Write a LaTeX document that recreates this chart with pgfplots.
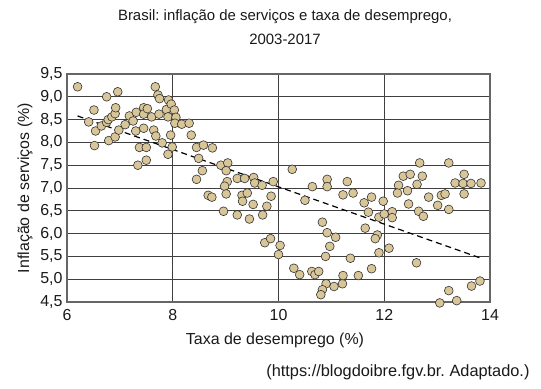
\documentclass[border=0pt]{standalone}
\usepackage{pgfplots}
\pgfplotsset{compat=1.18}
\usepackage{fontspec}
\setmainfont{Liberation Sans}
\frenchspacing
\definecolor{dot}{RGB}{217,198,152}
\definecolor{txt}{RGB}{25,25,25}
\begin{document}
\begin{tikzpicture}[x=1bp,y=1bp]
\useasboundingbox (-67,-86) rectangle (474,302);
\begin{axis}[
  at={(0,0)}, anchor=south west,
  scale only axis, width=423bp, height=228bp,
  xmin=6, xmax=14, ymin=4.5, ymax=9.5,
  xtick={6,8,10,12,14},
  ytick={4.5,5,5.5,6,6.5,7,7.5,8,8.5,9,9.5},
  xmajorgrids, ymajorgrids,
  grid style={black!75, line width=0.7bp},
  axis line style={black!60, line width=1.2bp},
  major tick length=0pt,
  clip=false,
  tick label style={font=\fontsize{16}{18}\selectfont, text=txt},
  /pgf/number format/assume math mode=true,
  yticklabel style={xshift=-1bp, /pgf/number format/.cd, fixed, fixed zerofill, precision=1, use comma},
  xticklabel style={yshift=-4bp, /pgf/number format/.cd, fixed, precision=0},
]
\addplot[only marks, mark=*, mark size=4.4bp, mark options={fill=dot, draw=black!80, line width=0.6bp}] coordinates {
(6.2,9.22) (6.75,9.0) (6.96,9.11) (6.51,8.71) (6.41,8.45) (6.54,8.25) (6.52,7.93) (6.65,8.36)
(6.75,8.44) (6.78,8.5) (6.85,8.56) (6.91,8.63) (6.92,8.76) (6.79,8.04) (6.91,8.12) (6.98,8.27)
(7.1,8.39) (7.18,8.58) (7.25,8.47) (7.31,8.66) (7.3,8.25) (7.37,7.89) (7.34,7.5) (7.45,8.76)
(7.45,8.62) (7.52,8.74) (7.45,8.31) (7.5,7.89) (7.5,7.61) (7.6,8.56) (7.64,8.27) (7.68,8.14)
(7.67,9.22) (7.72,9.04) (7.75,8.96) (7.74,8.62) (7.8,7.99) (7.88,8.72) (7.92,8.93) (7.97,8.84)
(7.91,8.56) (7.96,8.16) (7.99,7.9) (7.91,7.74) (8.03,8.71) (8.06,8.55) (8.04,8.42) (8.17,8.4)
(8.31,8.42) (8.35,8.16) (8.45,7.89) (8.58,7.94) (8.49,7.65) (8.56,7.38) (8.45,7.19) (8.75,7.88)
(8.91,7.5) (9.04,7.55) (9.01,7.38) (9.03,7.14) (8.98,7.04) (9.22,7.21) (9.36,7.21) (9.53,7.23)
(9.55,7.11) (9.69,7.06) (9.9,7.14) (10.26,7.41) (10.64,7.03) (10.92,7.19) (10.92,7.03) (11.3,7.14)
(12.67,7.55) (13.22,7.55) (12.36,7.26) (12.49,7.3) (12.72,7.26) (12.27,7.06) (12.62,7.08) (13.51,7.3)
(13.34,7.11) (13.49,7.1) (13.64,7.1) (13.83,7.11) (12.44,6.94)
(8.67,6.84) (8.74,6.8) (9.01,6.87) (9.31,6.84) (9.41,6.89) (9.32,6.71) (9.52,6.64) (9.86,6.82)
(9.78,6.6) (8.96,6.49) (9.22,6.41) (9.45,6.32) (9.7,6.41) (9.74,5.8) (9.85,5.89) (10.03,5.74)
(10.0,5.54) (10.29,5.24) (10.4,5.1) (10.63,5.17) (10.69,5.1) (10.76,5.17) (10.9,4.9) (10.83,4.77)
(10.8,4.66) (11.05,4.84) (11.21,4.9) (11.22,5.08) (10.5,6.73) (11.22,6.85) (10.83,6.25) (10.92,6.02)
(11.08,5.92) (10.97,5.72) (10.89,5.5)
(11.41,6.89) (11.62,6.675) (11.76,6.8) (11.7,6.47) (11.98,6.71) (11.9,6.36) (12.0,6.43) (12.15,6.48)
(12.15,6.35) (12.25,6.89) (12.46,6.65) (12.65,6.49) (12.74,6.38) (12.84,6.8) (13.01,6.62) (13.08,6.84)
(13.15,6.87) (13.22,6.53) (13.51,6.87) (11.64,6.12) (11.87,5.97) (11.83,5.89) (11.9,5.58) (12.09,5.68)
(11.36,5.46) (11.76,5.23) (11.51,5.08) (12.61,5.36) (13.81,4.96) (13.65,4.85) (13.22,4.75) (13.05,4.48)
(13.37,4.53)
};
\addplot[black, line width=1.2bp, dash pattern=on 6bp off 4bp] coordinates {(6.2,8.58) (13.83,5.46)};
\end{axis}
\node[text=txt, font=\fontsize{15}{17}\selectfont] at (218,285) {Brasil: inflação de serviços e taxa de desemprego,};
\node[text=txt, font=\fontsize{15}{17}\selectfont] at (218,263) {2003-2017};
\node[text=txt, font=\fontsize{16}{18}\selectfont] at (208,-38) {Taxa de desemprego (\%)};
\node[text=txt, font=\fontsize{16}{18}\selectfont, rotate=90] at (-42,114) {Inflação de serviços (\%)};
\node[text=txt, font=\fontsize{16.4}{18}\selectfont, anchor=east] at (466,-70) {(https://blogdoibre.fgv.br. Adaptado.)};
\end{tikzpicture}
\end{document}
